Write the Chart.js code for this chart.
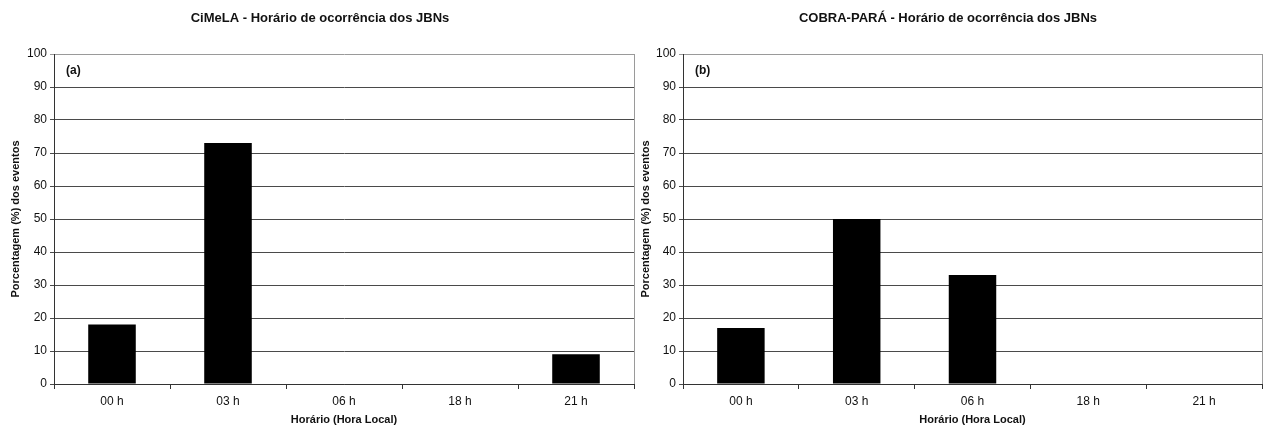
<!DOCTYPE html>
<html>
<head>
<meta charset="utf-8">
<script src="https://cdn.jsdelivr.net/npm/chart.js@4"></script>
<style>
  html, body { margin: 0; padding: 0; background: #fff; }
  #wrap { position: relative; width: 1266px; height: 432px; overflow: hidden; }
  canvas { position: absolute; top: 0; }
</style>
</head>
<body>
<div id="wrap">
  <canvas id="cimela" width="640" height="432" style="left:0px"></canvas>
  <canvas id="cobra" width="636" height="432" style="left:630px"></canvas>
</div>
<script>
// Horários de ocorrência (categorias do eixo x)
const horarios = ['00 h', '03 h', '06 h', '18 h', '21 h'];

// Porcentagem (%) dos eventos em cada horário
const cimelaValores = [18, 73, 0, 0, 9];
const cobraValores = [17, 50, 33, 0, 0];

// Escala do eixo y
const yMin = 0;
const yMax = 100;
const yPasso = 10;

const titulos = [
  'CiMeLA - Horário de ocorrência dos JBNs',
  'COBRA-PARÁ - Horário de ocorrência dos JBNs'
];
const rotulosPainel = ['(a)', '(b)'];
const tituloX = 'Horário (Hora Local)';
const tituloY = 'Porcentagem (%) dos eventos';

const FONTE = '"Liberation Sans", Arial, sans-serif';
Chart.defaults.font.family = FONTE;
Chart.defaults.color = '#111';

// Texto fixo do gráfico: título, rótulo do painel e borda direita da área
const decoracao = {
  id: 'decoracao',
  afterDraw(chart, args, opts) {
    const ctx = chart.ctx;
    const a = chart.chartArea;
    ctx.save();
    // borda direita da área de plotagem
    ctx.strokeStyle = '#9a9a9a';
    ctx.lineWidth = 1;
    ctx.beginPath();
    ctx.moveTo(Math.round(a.right) + 0.5, a.top);
    ctx.lineTo(Math.round(a.right) + 0.5, a.bottom);
    ctx.stroke();
    // título
    ctx.fillStyle = '#111';
    ctx.font = 'bold 13px ' + FONTE;
    ctx.textAlign = 'center';
    ctx.textBaseline = 'middle';
    ctx.fillText(opts.titulo, opts.tituloX, 18);
    // rótulo do painel
    ctx.font = 'bold 12px ' + FONTE;
    ctx.textAlign = 'left';
    ctx.fillText(opts.painel, a.left + 12, a.top + 17);
    ctx.restore();
  }
};

function criarGrafico(id, valores, titulo, painel, areaEsq, areaDir, larguraCanvas, tituloCx) {
  return new Chart(document.getElementById(id), {
    type: 'bar',
    data: {
      labels: horarios,
      datasets: [{
        data: valores,
        backgroundColor: '#000',
        borderColor: '#000',
        borderWidth: 0,
        barPercentage: 0.41,
        categoryPercentage: 1.0
      }]
    },
    options: {
      responsive: false,
      animation: false,
      devicePixelRatio: 1,
      layout: { padding: { top: 54, left: 0, right: larguraCanvas - areaDir, bottom: 0 } },
      plugins: {
        legend: { display: false },
        tooltip: { enabled: false },
        title: { display: false },
        decoracao: { titulo: titulo, painel: painel, tituloX: tituloCx }
      },
      scales: {
        x: {
          offset: true,
          grid: {
            offset: true,
            drawOnChartArea: false,
            drawTicks: true,
            tickLength: 5,
            color: '#333'
          },
          border: { color: '#333', width: 1 },
          ticks: { font: { size: 12 }, color: '#111', padding: 5 },
          title: {
            display: true,
            text: tituloX,
            font: { size: 11, weight: 'bold' },
            color: '#111',
            padding: { top: 2, bottom: 5 }
          },
          afterFit(scale) { scale.height = 48; }
        },
        y: {
          min: yMin,
          max: yMax,
          ticks: { stepSize: yPasso, font: { size: 12 }, color: '#111', padding: 3 },
          grid: {
            color: (c) => (c.tick && c.tick.value === yMax) ? '#9a9a9a' : '#4a4a4a',
            lineWidth: 1,
            drawTicks: true,
            tickLength: 4
          },
          border: { color: '#333', width: 1 },
          title: {
            display: true,
            text: tituloY,
            font: { size: 11, weight: 'bold' },
            color: '#111',
            padding: { top: 9, bottom: 4 }
          },
          afterFit(scale) { scale.width = areaEsq; }
        }
      }
    },
    plugins: [decoracao]
  });
}

criarGrafico('cimela', cimelaValores, titulos[0], rotulosPainel[0], 54, 634, 640, 320);
criarGrafico('cobra', cobraValores, titulos[1], rotulosPainel[1], 53, 632, 636, 318);
</script>
</body>
</html>
